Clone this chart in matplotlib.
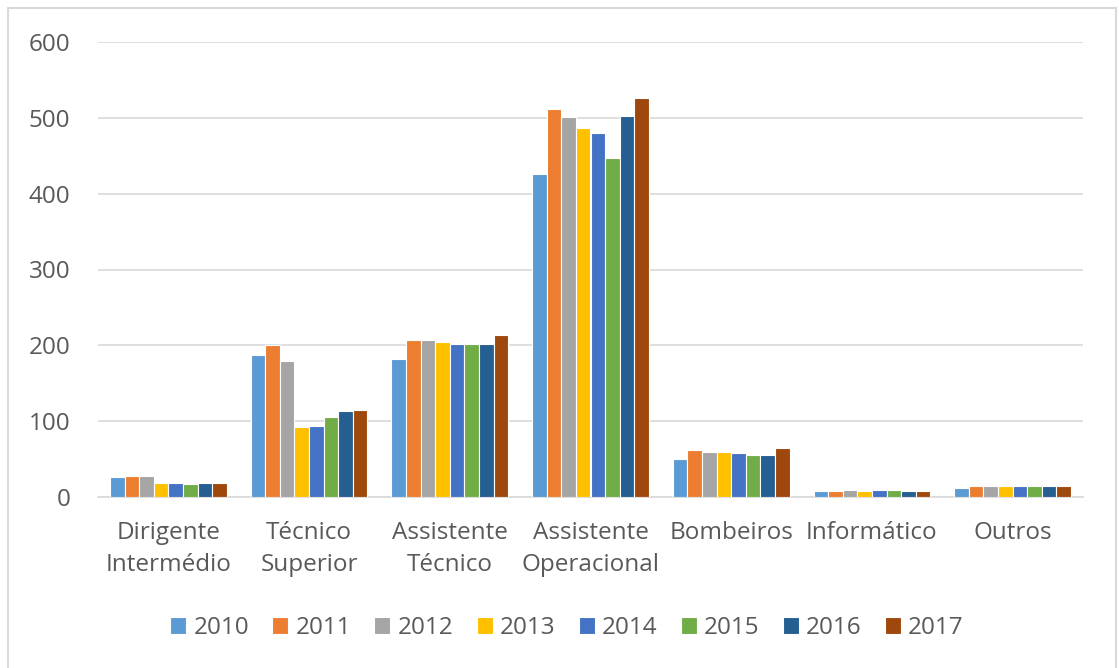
import numpy as np
import matplotlib.pyplot as plt
from matplotlib.patches import Rectangle

categories = ["Dirigente\nIntermédio", "Técnico\nSuperior", "Assistente\nTécnico",
              "Assistente\nOperacional", "Bombeiros", "Informático", "Outros"]
years = ["2010", "2011", "2012", "2013", "2014", "2015", "2016", "2017"]

v2010 = [27, 187, 182, 426, 50, 8, 12]
v2011 = [28, 200, 207, 511, 62, 8, 15]
v2012 = [28, 179, 207, 501, 60, 9, 15]
v2013 = [18, 92, 204, 487, 59, 8, 14]
v2014 = [18, 93, 202, 480, 58, 9, 14]
v2015 = [17, 106, 202, 447, 56, 9, 14]
v2016 = [19, 114, 202, 503, 55, 8, 14]
v2017 = [19, 115, 213, 526, 65, 8, 14]
series = [v2010, v2011, v2012, v2013, v2014, v2015, v2016, v2017]

colors = ["#5B9BD5", "#ED7D31", "#A5A5A5", "#FFC000",
          "#4472C4", "#70AD47", "#255E91", "#9E480E"]

plt.rcParams['font.family'] = ['Open Sans', 'DejaVu Sans']
FS = 17.5
TXT = "#595959"

fig = plt.figure(figsize=(11.19, 6.68), dpi=100)
ax = fig.add_axes([98 / 1119, 1 - 497 / 668, 985 / 1119, 455 / 668])

x = np.arange(len(categories))
group = 0.83
w = group / len(years)
for i, (vals, c, yr) in enumerate(zip(series, colors, years)):
    ax.bar(x - group / 2 + w * (i + 0.5), vals, width=w, color=c,
           edgecolor="white", linewidth=0.8, label=yr, zorder=3)

ax.set_xlim(-0.5, len(categories) - 0.5)
ax.set_ylim(0, 600)
ax.set_yticks(range(0, 601, 100))
ax.set_xticks(x)
ax.set_xticklabels(categories, fontsize=FS, color=TXT, linespacing=1.48)
ax.tick_params(axis="y", labelsize=FS, labelcolor=TXT, length=0, pad=20)
ax.tick_params(axis="x", length=0, pad=17)
ax.grid(axis="y", color="#D9D9D9", linewidth=1.2, zorder=0)
for s in ["top", "right", "left"]:
    ax.spines[s].set_visible(False)
ax.spines["bottom"].set_color("#D9D9D9")
ax.spines["bottom"].set_linewidth(1.2)

ax.legend(loc="center", bbox_to_anchor=(567 / 1119, 1 - 628 / 668), bbox_transform=fig.transFigure,
          ncol=8, frameon=False, fontsize=FS, labelcolor=TXT,
          handlelength=0.66, handleheight=0.66, handletextpad=0.3, columnspacing=0.95)

fig.patches.append(Rectangle((8 / 1119, -0.05), 1116 / 1119 - 8 / 1119, 1.05 - 8 / 668,
                             transform=fig.transFigure, fill=False,
                             edgecolor="#D9D9D9", linewidth=1.5))

fig.savefig("out.png", dpi=100, facecolor="white")
